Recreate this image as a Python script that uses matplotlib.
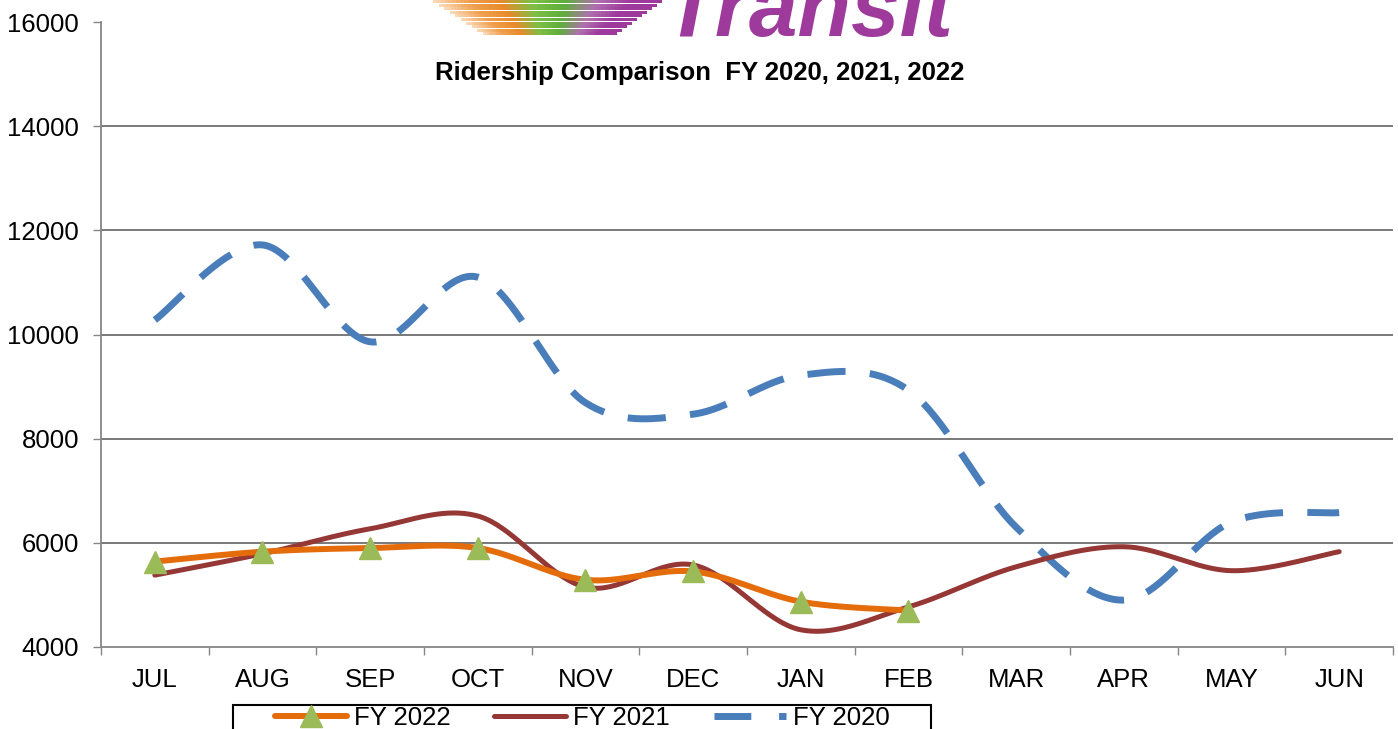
import numpy as np
import matplotlib
matplotlib.use('Agg')
import matplotlib.pyplot as plt
from matplotlib.lines import Line2D
from matplotlib.patches import Rectangle
from matplotlib.collections import LineCollection
from matplotlib.colors import LinearSegmentedColormap

plt.rcParams['font.family'] = ['Liberation Sans', 'DejaVu Sans']

# data
months = ['JUL', 'AUG', 'SEP', 'OCT', 'NOV', 'DEC',
          'JAN', 'FEB', 'MAR', 'APR', 'MAY', 'JUN']
fy2022 = [5640, 5830, 5900, 5900, 5290, 5450, 4870, 4700]
fy2021 = [5380, 5790, 6270, 6515, 5150, 5575, 4330, 4770, 5540, 5925, 5465, 5830]
fy2020 = [10280, 11720, 9860, 11100, 8690, 8470, 9220, 8930, 6300, 4900, 6400, 6580]
y_ticks = [4000, 6000, 8000, 10000, 12000, 14000, 16000]
title = 'Ridership Comparison  FY 2020, 2021, 2022'

ORANGE = '#E46C0A'
RED = '#953735'
BLUE = '#4A7EBB'
GREEN = '#9BBB59'
GRAY = '#868686'
W, H = 1398, 729


def smooth(xs, ys, n=40):
    """Excel style smoothed line (bezier, control points at 1/6)."""
    P = np.column_stack([xs, ys]).astype(float)
    out = []
    t = np.linspace(0, 1, n)[:, None]
    for i in range(len(P) - 1):
        p0 = P[i - 1] if i > 0 else P[i]
        p1, p2 = P[i], P[i + 1]
        p3 = P[i + 2] if i + 2 < len(P) else P[i + 1]
        c1 = p1 + (p2 - p0) / 6
        c2 = p2 - (p3 - p1) / 6
        seg = (1 - t)**3 * p1 + 3 * (1 - t)**2 * t * c1 + 3 * (1 - t) * t**2 * c2 + t**3 * p2
        out.append(seg if i == 0 else seg[1:])
    out = np.vstack(out)
    return out[:, 0], out[:, 1]


fig = plt.figure(figsize=(W / 100, H / 100), dpi=100)
ax = fig.add_axes([101 / W, 1 - 647 / H, (1393 - 101) / W, (647 - 22) / H])

x = np.arange(len(months))

sx, sy = smooth(x, fy2020)
ax.plot(sx, sy, color=BLUE, lw=5, dashes=(5.5, 3.5), solid_capstyle='butt',
        dash_capstyle='butt', zorder=3)
sx, sy = smooth(x, fy2021)
ax.plot(sx, sy, color=RED, lw=3.6, solid_capstyle='round', zorder=4)
x22 = np.arange(len(fy2022))
sx, sy = smooth(x22, fy2022)
ax.plot(sx, sy, color=ORANGE, lw=4.3, solid_capstyle='round', zorder=5)
ax.plot(x22, fy2022, ls='none', marker='^', ms=16, color=GREEN, mec=GREEN, zorder=6)

ax.set_xlim(-0.5, len(months) - 0.5)
ax.set_ylim(y_ticks[0], y_ticks[-1])
for yv in y_ticks[1:-1]:
    ax.axhline(yv, color='#6e6e6e', lw=1.3, zorder=1)

ax.set_yticks(y_ticks)
ax.set_yticklabels([str(v) for v in y_ticks])
ax.set_xticks(np.arange(-0.5, len(months)), labels=[])
ax.set_xticks(x, labels=months, minor=True)
ax.tick_params(axis='y', length=5.8, width=1, color=GRAY, labelsize=18.5, pad=10)
ax.tick_params(axis='x', which='major', length=5.8, width=1, color=GRAY)
ax.tick_params(axis='x', which='minor', length=0, labelsize=18.5, pad=15)
for s in ['top', 'right']:
    ax.spines[s].set_visible(False)
for s in ['left', 'bottom']:
    ax.spines[s].set_color(GRAY)
    ax.spines[s].set_linewidth(1.3)

fig.text(700 / W, 1 - 73 / H, title, ha='center', va='center',
         fontsize=18.5, fontweight='bold')

# logo overlay, drawn in pixel coords
lax = fig.add_axes([0, 0, 1, 1], facecolor='none')
lax.set_xlim(0, W)
lax.set_ylim(H, 0)
lax.axis('off')
cmap = LinearSegmentedColormap.from_list(
    'streak', ['#FBD9B5', '#F0A050', '#E88A2A', '#7CBF45', '#5DAE3A', '#B070B0', '#9E3A9B', '#9E3A9B'])
segs, cols = [], []
for i in range(10):
    yy = 1 + i * 3.6
    x0 = 433 + i * 5.5
    x1 = 660 - i * 5.0
    xs = np.linspace(x0, x1, 60)
    for a, b in zip(xs[:-1], xs[1:]):
        segs.append([(a, yy), (b + 0.8, yy)])
        cols.append(cmap((a - x0) / (x1 - x0)))
lax.add_collection(LineCollection(segs, colors=cols, linewidths=2.0,
                                  capstyle='butt', antialiaseds=False))
lax.text(664, 36, 'Transit', color='#9E3A9B', fontsize=63, fontweight='bold',
         fontstyle='italic', family=['Liberation Sans Narrow', 'Liberation Sans'],
         ha='left', va='baseline')

# legend, frame drawn separately since it runs off the bottom
handles = [
    Line2D([], [], color=ORANGE, lw=4.3, solid_capstyle='round',
           marker='^', ms=16, mfc=GREEN, mec=GREEN),
    Line2D([], [], color=RED, lw=3.6, solid_capstyle='round'),
    Line2D([], [], color=BLUE, lw=5, dashes=(5.3, 4.0), dash_capstyle='butt'),
]
fig.legend(handles, ['FY 2022', 'FY 2021', 'FY 2020'], ncol=3, frameon=False,
           loc='upper left', bbox_to_anchor=(275 / W, 1 - 706 / H),
           borderaxespad=0, borderpad=0, fontsize=18.5, handlelength=2.8,
           handletextpad=0.27, columnspacing=1.71)
fig.add_artist(Rectangle((233 / W, -0.05), (931 - 233) / W, 0.05 + 1 - 705 / H,
                         transform=fig.transFigure, fill=False, ec='black', lw=1.5))

fig.savefig('out.png', dpi=100)
